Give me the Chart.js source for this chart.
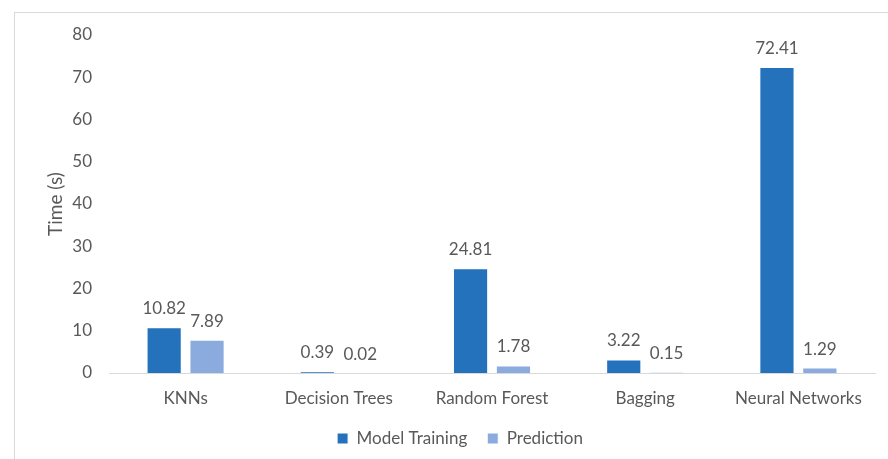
<!DOCTYPE html>
<html>
<head>
<meta charset="utf-8">
<script src="https://cdn.jsdelivr.net/npm/chart.js@4.4.1/dist/chart.umd.min.js"></script>
<style>
  html, body { margin: 0; padding: 0; background: #fff; overflow: hidden; }
  body { width: 888px; height: 459px; position: relative; }
  #frame { position: absolute; left: 14px; top: 12px; width: 900px; height: 470px; border: 1px solid #d9d9d9; }
  #chart { position: absolute; left: 15px; top: 13px; }
</style>
</head>
<body>
<div id="frame"></div>
<canvas id="chart" width="873" height="446"></canvas>
<script>
const categories = ["KNNs", "Decision Trees", "Random Forest", "Bagging", "Neural Networks"];
const trainingTimes = [10.82, 0.39, 24.81, 3.22, 72.41];
const predictionTimes = [7.89, 0.02, 1.78, 0.15, 1.29];
const yTicks = [0, 10, 20, 30, 40, 50, 60, 70, 80];

const textColor = "#595959";
const fontFamily = "Lato, 'Open Sans', sans-serif";

// value labels above each bar
const barLabels = {
  id: "barLabels",
  afterLayout(chart) {
    // legend in the original sits a little right of the canvas centre
    chart.legend.left += 15;
    chart.legend.right += 15;
  },
  afterDatasetsDraw(chart) {
    const ctx = chart.ctx;
    ctx.save();
    ctx.font = `17px ${fontFamily}`;
    ctx.fillStyle = textColor;
    ctx.textAlign = "center";
    ctx.textBaseline = "alphabetic";
    chart.data.datasets.forEach((ds, i) => {
      chart.getDatasetMeta(i).data.forEach((bar, j) => {
        ctx.fillText(ds.data[j].toFixed(2), bar.x, bar.y - 13);
      });
    });
    ctx.restore();
  },
};

new Chart(document.getElementById("chart"), {
  type: "bar",
  data: {
    labels: categories,
    datasets: [
      { label: "Model Training", data: trainingTimes, backgroundColor: "#2471BC", borderColor: "#ffffff", borderWidth: 1 },
      { label: "Prediction", data: predictionTimes, backgroundColor: "#8BAADE", borderColor: "#ffffff", borderWidth: 1 },
    ],
  },
  options: {
    responsive: false,
    animation: false,
    datasets: { bar: { categoryPercentage: 0.56, barPercentage: 0.82 } },
    layout: { padding: { top: 22, right: 13, bottom: 2, left: 0 } },
    scales: {
      x: {
        grid: { display: false, drawTicks: false },
        border: { color: "#d9d9d9", width: 1 },
        ticks: { color: textColor, font: { family: fontFamily, size: 17 }, padding: 15 },
        afterFit: (s) => { s.height = 37; },
      },
      y: {
        min: 0,
        max: 80,
        afterBuildTicks: (s) => { s.ticks = yTicks.map((v) => ({ value: v })); },
        grid: { display: false, drawTicks: false },
        border: { display: false },
        ticks: { color: textColor, font: { family: fontFamily, size: 17 }, padding: 17 },
        title: { display: true, text: "Time (s)", color: textColor, font: { family: fontFamily, size: 19 }, padding: { top: 29, bottom: 0 } },
        afterFit: (s) => { s.width = 94; s.paddingTop = 0; s.paddingBottom = 0; },
      },
    },
    plugins: {
      legend: {
        position: "bottom",
        labels: { color: textColor, font: { family: fontFamily, size: 17 }, boxWidth: 11, boxHeight: 11, padding: 20 },
      },
      tooltip: { enabled: false },
    },
  },
  plugins: [barLabels],
});
</script>
</body>
</html>
